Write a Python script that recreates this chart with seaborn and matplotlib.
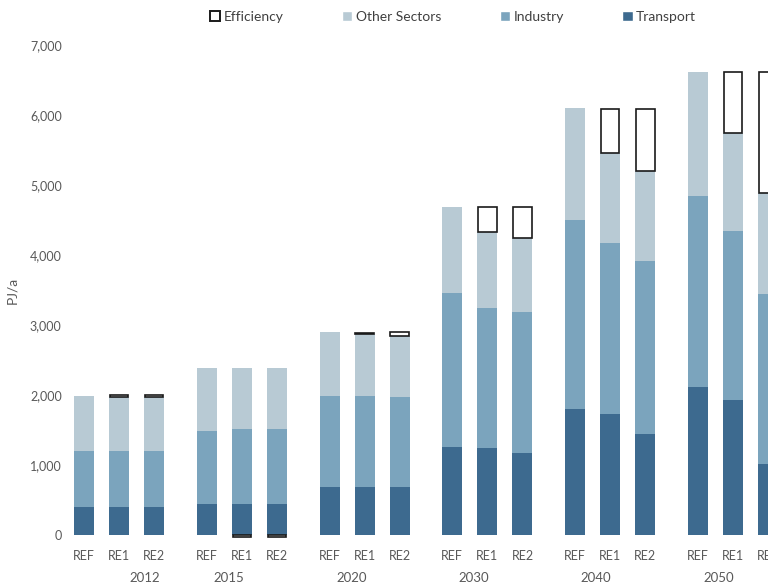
import numpy as np
import pandas as pd
import seaborn as sns
from matplotlib import pyplot as plt
from matplotlib.patches import Patch

years = ['2012', '2015', '2020', '2030', '2040', '2050']
scenarios = ['REF', 'RE1', 'RE2']

# PJ/a per year, in order REF, RE1, RE2
transport = [404, 404, 404, 443, 443, 443, 690, 690, 690,
             1262, 1243, 1171, 1796, 1733, 1438, 2114, 1929, 1010]
industry = [796, 796, 796, 1043, 1071, 1071, 1296, 1296, 1277,
            2200, 2005, 2015, 2704, 2434, 2472, 2734, 2409, 2433]
other_sectors = [790, 778, 778, 895, 867, 867, 919, 880, 876,
                 1218, 1082, 1064, 1596, 1286, 1290, 1771, 1400, 1438]
efficiency = [0, 20, 20, 0, -25, -25, 0, 25, 57,
              0, 350, 430, 0, 637, 890, 0, 881, 1738]

c_transport = '#3d6a8f'
c_industry = '#7ba4bd'
c_other = '#b8cad4'
text_color = '#595959'

sns.set_theme(style='white')
plt.rcParams['font.family'] = ['Lato', 'DejaVu Sans']

# bar positions: 3 bars per year, half a slot between groups
pos = np.array([g * 3.5 + j for g in range(len(years)) for j in range(len(scenarios))])
df = pd.DataFrame({
    'pos': pos,
    'transport': transport,
    'industry': industry,
    'other': other_sectors,
    'efficiency': efficiency,
})
df['ind_top'] = df['transport'] + df['industry']
df['oth_top'] = df['ind_top'] + df['other']

fig = plt.figure(figsize=(7.68, 5.88), dpi=100)
W, H = 768, 588
ax_left, ax_bottom, ax_top = 70, 535, 45
ax = fig.add_axes([ax_left / W, (H - ax_bottom) / H, (W - ax_left) / W, (ax_bottom - ax_top) / H])

bar_w = 0.57
for col, color in [('oth_top', c_other), ('ind_top', c_industry), ('transport', c_transport)]:
    sns.barplot(data=df, x='pos', y=col, native_scale=True, width=bar_w, color=color,
                saturation=1, errorbar=None, linewidth=0, ax=ax)

# efficiency savings sit on top of the stack; negative ones hang below zero
eff = df[df['efficiency'] != 0]
base = np.where(eff['efficiency'] > 0, eff['oth_top'], 0)
ax.bar(eff['pos'], eff['efficiency'], bottom=base, width=bar_w - 0.04, color='white',
       edgecolor='#1a1a1a', linewidth=1.2, zorder=3, clip_on=False)

x_left = (ax_left - 84) / 35.1
x_right = (W - 84) / 35.1
ax.set_xlim(x_left, x_right)
ax.set_ylim(0, 7000)
ax.set_yticks(range(0, 7001, 1000))
ax.yaxis.set_major_formatter(plt.FuncFormatter(lambda v, p: f'{int(v):,}'))
ax.set_xticks(pos)
ax.set_xticklabels(scenarios * len(years))
ax.tick_params(axis='x', length=0, pad=11, labelsize=9, labelcolor=text_color)
ax.tick_params(axis='y', length=0, pad=6, labelsize=9, labelcolor=text_color)
ax.set_xlabel('')
ax.set_ylabel('PJ/a', fontsize=10, color=text_color)
ax.yaxis.set_label_coords(-0.074, 0.5)
for s in ax.spines.values():
    s.set_visible(False)

# year labels under each group
year_offset = [0.74, -0.37, -0.36, -0.4, -0.4, -0.4]
for g, (yr, off) in enumerate(zip(years, year_offset)):
    ax.annotate(yr, xy=(g * 3.5 + 1 + off, 0), xycoords=('data', 'axes fraction'),
                xytext=(0, -31), textcoords='offset points', ha='center', va='center',
                fontsize=9.5, color=text_color, annotation_clip=False)

handles = [
    Patch(facecolor='white', edgecolor='#1a1a1a', linewidth=1.4, label='Efficiency'),
    Patch(facecolor=c_other, label='Other Sectors'),
    Patch(facecolor=c_industry, label='Industry'),
    Patch(facecolor=c_transport, label='Transport'),
]
fig.legend(handles=handles, loc='center', bbox_to_anchor=(453 / W, 1 - 17 / H), ncol=4,
           frameon=False, fontsize=10, handlelength=0.75, handleheight=0.75,
           handletextpad=0.25, columnspacing=4.2, labelcolor='#404040')

fig.savefig('out.png', dpi=100)
